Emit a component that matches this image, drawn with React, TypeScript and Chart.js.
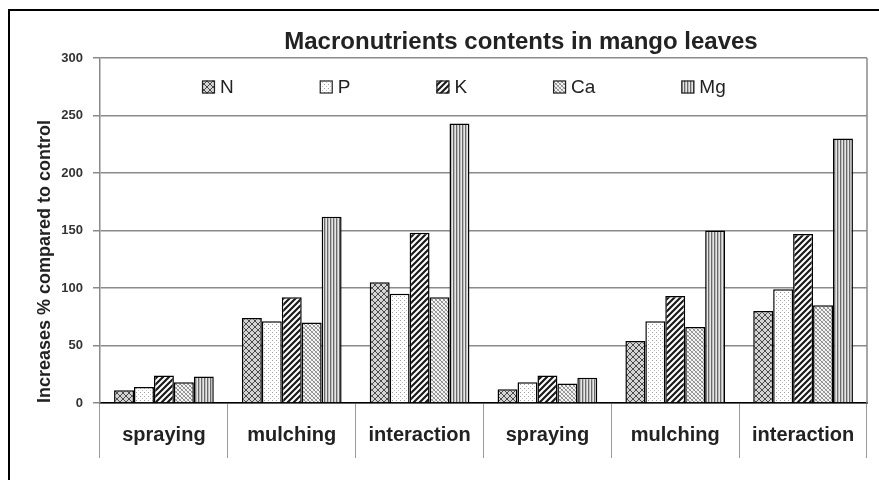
import React, { useEffect, useRef } from 'react';
import { Chart, registerables } from 'chart.js';

Chart.register(...registerables);

const categories = ['spraying', 'mulching', 'interaction', 'spraying', 'mulching', 'interaction'];
const seriesNames = ['N', 'P', 'K', 'Ca', 'Mg'];
const nValues = [11, 74, 105, 12, 54, 80];
const pValues = [14, 71, 95, 18, 71, 99];
const kValues = [24, 92, 148, 24, 93, 147];
const caValues = [18, 70, 92, 17, 66, 85];
const mgValues = [23, 162, 243, 22, 150, 230];
const yMin = 0;
const yMax = 300;
const yStep = 50;
const titleText = 'Macronutrients contents in mango leaves';
const yTitleText = 'Increases % compared to control';

const FONT = '"Liberation Sans", Arial, Helvetica, sans-serif';

function makePattern(w: number, h: number, draw: (c: CanvasRenderingContext2D) => void) {
  const c = document.createElement('canvas');
  c.width = w;
  c.height = h;
  const ctx = c.getContext('2d') as CanvasRenderingContext2D;
  draw(ctx);
  return ctx.createPattern(c, 'repeat') as CanvasPattern;
}

function buildPatterns() {
  const pN = makePattern(6, 6, (c) => {
    c.fillStyle = '#d4d4d4';
    c.fillRect(0, 0, 6, 6);
    c.fillStyle = '#4a4a4a';
    for (let i = 0; i < 6; i++) {
      c.fillRect(i, i, 1, 1);
      c.fillRect(5 - i, i, 1, 1);
    }
  });
  const pP = makePattern(4, 4, (c) => {
    c.fillStyle = '#ffffff';
    c.fillRect(0, 0, 4, 4);
    c.fillStyle = '#a0a0a0';
    c.fillRect(0, 0, 1, 1);
    c.fillStyle = '#c0c0c0';
    c.fillRect(2, 2, 1, 1);
  });
  const pK = makePattern(6, 6, (c) => {
    c.fillStyle = '#ffffff';
    c.fillRect(0, 0, 6, 6);
    c.strokeStyle = '#1a1a1a';
    c.lineWidth = 2.2;
    c.beginPath();
    c.moveTo(-1, 7); c.lineTo(7, -1);
    c.moveTo(-4, 4); c.lineTo(4, -4);
    c.moveTo(2, 10); c.lineTo(10, 2);
    c.stroke();
  });
  const pCa = makePattern(4, 4, (c) => {
    c.fillStyle = '#f4f4f4';
    c.fillRect(0, 0, 4, 4);
    for (let i = 0; i < 4; i++) {
      c.fillStyle = '#8a8a8a';
      c.fillRect(i, i, 1, 1);
      c.fillStyle = '#b0b0b0';
      c.fillRect(3 - i, i, 1, 1);
    }
  });
  const pMg = makePattern(3, 3, (c) => {
    c.fillStyle = '#e6e6e6';
    c.fillRect(0, 0, 3, 3);
    c.fillStyle = '#6a6a6a';
    c.fillRect(0, 0, 1, 3);
    c.fillStyle = '#bdbdbd';
    c.fillRect(1, 0, 1, 3);
  });
  return [pN, pP, pK, pCa, pMg];
}

const framePlugin = {
  id: 'frame',
  beforeDraw(chart: any) {
    const { ctx, width, height } = chart;
    ctx.save();
    ctx.fillStyle = '#ffffff';
    ctx.fillRect(0, 0, width, height);
    ctx.strokeStyle = '#000000';
    ctx.lineWidth = 2;
    ctx.strokeRect(9, 10, width + 50, height + 50);
    ctx.restore();
  },
  afterDraw(chart: any) {
    const { ctx, chartArea } = chart;
    ctx.save();
    ctx.strokeStyle = '#8a8a8a';
    ctx.lineWidth = 1.5;
    ctx.beginPath();
    ctx.moveTo(chartArea.right, chartArea.top);
    ctx.lineTo(chartArea.right, chartArea.bottom);
    ctx.stroke();
    // chart title (centred on the full, wider, cropped frame)
    ctx.font = 'bold 24px ' + FONT;
    ctx.fillStyle = '#222';
    ctx.textAlign = 'center';
    ctx.textBaseline = 'middle';
    ctx.fillText(titleText, 521, 42);
    ctx.restore();
  },
};

const innerLegendPlugin = {
  id: 'innerLegend',
  afterDraw(chart: any) {
    const { ctx, chartArea } = chart;
    ctx.save();
    ctx.font = '19px ' + FONT;
    ctx.textBaseline = 'middle';
    ctx.textAlign = 'left';
    const box = 13;
    const y = chartArea.top + 29;
    let x = chartArea.left + 102;
    chart.data.datasets.forEach((ds: any) => {
      ctx.fillStyle = ds.backgroundColor;
      ctx.fillRect(x, y - box / 2, box, box);
      ctx.strokeStyle = '#222';
      ctx.lineWidth = 1.2;
      ctx.strokeRect(x + 0.5, y - box / 2 + 0.5, box - 1, box - 1);
      ctx.fillStyle = '#222';
      ctx.fillText(ds.label, x + box + 5, y + 1);
      const w = ctx.measureText(ds.label).width;
      x += box + 5 + w + 86;
    });
    ctx.restore();
  },
};

export default function App() {
  const ref = useRef<HTMLCanvasElement | null>(null);

  useEffect(() => {
    if (!ref.current) return;
    const patterns = buildPatterns();
    const seriesValues = [nValues, pValues, kValues, caValues, mgValues];
    const chart = new Chart(ref.current, {
      type: 'bar',
      data: {
        labels: categories,
        datasets: seriesNames.map((name, i) => ({
          label: name,
          data: seriesValues[i],
          backgroundColor: patterns[i] as any,
          borderColor: '#000000',
          borderWidth: 1.5,
          borderSkipped: 'bottom',
          categoryPercentage: 0.78,
          barPercentage: 1.0,
        })),
      },
      options: {
        responsive: false,
        animation: false,
        layout: { padding: { left: 34, right: 12, top: 58, bottom: 20 } },
        plugins: {
          legend: { display: false },
          tooltip: { enabled: false },
          title: { display: false },
        },
        scales: {
          x: {
            grid: {
              display: true,
              drawOnChartArea: false,
              drawTicks: true,
              tickLength: 55,
              offset: true,
              color: '#9a9a9a',
              lineWidth: 1,
            },
            border: { display: true, color: '#000000', width: 1.5 },
            ticks: {
              color: '#222',
              padding: -35,
              maxRotation: 0,
              font: { family: FONT, size: 20, weight: 'bold' },
            },
            afterFit: (scale: any) => {
              scale.height = 57;
            },
          },
          y: {
            min: yMin,
            max: yMax,
            ticks: {
              stepSize: yStep,
              color: '#333',
              padding: 10,
              font: { family: FONT, size: 13, weight: 'bold' },
            },
            grid: {
              color: '#8a8a8a',
              lineWidth: 1.5,
              tickLength: 7,
              drawTicks: true,
            },
            border: { display: true, color: '#8a8a8a', width: 1.5 },
            title: {
              display: true,
              text: yTitleText,
              align: 'start',
              color: '#222',
              padding: { top: 0, bottom: 0 },
              font: { family: FONT, size: 18, weight: 'bold' },
            },
            afterFit: (scale: any) => {
              scale.width = 66;
            },
          },
        },
      },
      plugins: [framePlugin, innerLegendPlugin],
    });
    return () => chart.destroy();
  }, []);

  return (
    <div style={{ position: 'absolute', left: 0, top: 0, width: 879, height: 480 }}>
      <canvas ref={ref} width={879} height={480} style={{ display: 'block' }} />
    </div>
  );
}
